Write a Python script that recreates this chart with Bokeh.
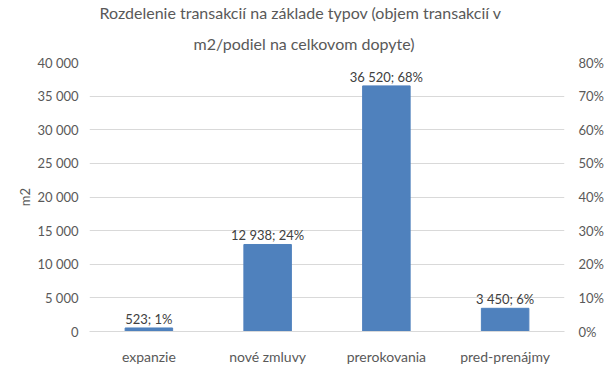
from bokeh.plotting import figure
from bokeh.models import ColumnDataSource, Range1d, LinearAxis, FixedTicker, Title, LabelSet, Spacer
from bokeh.layouts import row
from bokeh.core.properties import value
from bokeh.embed import file_html
from bokeh.resources import INLINE

categories = ["expanzie", "nové zmluvy", "prerokovania", "pred-prenájmy"]
volumes = [523, 12938, 36520, 3450]
shares = ["1%", "24%", "68%", "6%"]
y_ticks = [0, 5000, 10000, 15000, 20000, 25000, 30000, 35000, 40000]
y_labels = ["0", "5 000", "10 000", "15 000", "20 000", "25 000", "30 000", "35 000", "40 000"]
pct_ticks = [0, 0.1, 0.2, 0.3, 0.4, 0.5, 0.6, 0.7, 0.8]
pct_labels = ["0%", "10%", "20%", "30%", "40%", "50%", "60%", "70%", "80%"]
title_lines = ["Rozdelenie transakcií na základe typov (objem transakcií v",
               "m2/podiel na celkovom dopyte)"]

def fmt(v):
    return f"{v:,}".replace(",", " ")

labels = [f"{fmt(v)}; {s}" for v, s in zip(volumes, shares)]
src = ColumnDataSource(dict(cat=categories, vol=volumes, lab=labels))

FONT = "Lato"
GREY = "#595959"

p = figure(frame_width=475, frame_height=269, x_range=categories, y_range=Range1d(0, 40000),
           output_backend="svg", toolbar_location=None, min_border=0)
p.outline_line_color = None

p.vbar(x="cat", top="vol", width=0.4, source=src, color="#4F81BD")

ls = LabelSet(x="cat", y="vol", text="lab", source=src, text_align="center",
              text_baseline="alphabetic", y_offset=4, text_font=value(FONT), text_font_size="13px",
              text_color="#404040")
p.add_layout(ls)

p.extra_y_ranges = {"pct": Range1d(0, 0.8)}
ax2 = LinearAxis(y_range_name="pct")
ax2.ticker = FixedTicker(ticks=pct_ticks)
ax2.major_label_overrides = {t: l for t, l in zip(pct_ticks, pct_labels)}
p.add_layout(ax2, "right")

for ax in [p.yaxis[0], ax2]:
    ax.axis_line_color = None
    ax.major_tick_line_color = None
    ax.minor_tick_line_color = None
    ax.major_label_text_font = FONT
    ax.major_label_text_font_size = "13px"
    ax.major_label_text_color = GREY

p.yaxis[0].major_label_standoff = 5
ax2.major_label_standoff = 8

p.yaxis[0].ticker = FixedTicker(ticks=y_ticks)
p.yaxis[0].major_label_overrides = {t: l for t, l in zip(y_ticks, y_labels)}
p.yaxis[0].axis_label = "m2"
p.yaxis[0].axis_label_text_font = FONT
p.yaxis[0].axis_label_text_font_size = "13px"
p.yaxis[0].axis_label_text_font_style = "normal"
p.yaxis[0].axis_label_text_color = GREY
p.yaxis[0].axis_label_standoff = 1

p.xaxis.axis_line_color = "#D9D9D9"
p.xaxis.major_tick_line_color = None
p.xaxis.minor_tick_line_color = None
p.xaxis.major_label_text_font = FONT
p.xaxis.major_label_text_font_size = "14px"
p.xaxis.major_label_text_color = GREY
p.xaxis.major_label_standoff = 10

p.xgrid.grid_line_color = None
p.ygrid.ticker = FixedTicker(ticks=y_ticks)
p.ygrid.grid_line_color = "#D9D9D9"

t2 = Title(text=title_lines[1], align="left", offset=104, text_font=FONT, text_font_size="16px",
           text_font_style="normal", text_color=GREY, standoff=20)
t1 = Title(text=title_lines[0], align="left", offset=10, text_font=FONT, text_font_size="16px",
           text_font_style="normal", text_color=GREY, standoff=0)
p.add_layout(t2, "above")
p.add_layout(t1, "above")

layout = row(Spacer(width=14), p)
open("out.html", "w").write(file_html(layout, INLINE))
